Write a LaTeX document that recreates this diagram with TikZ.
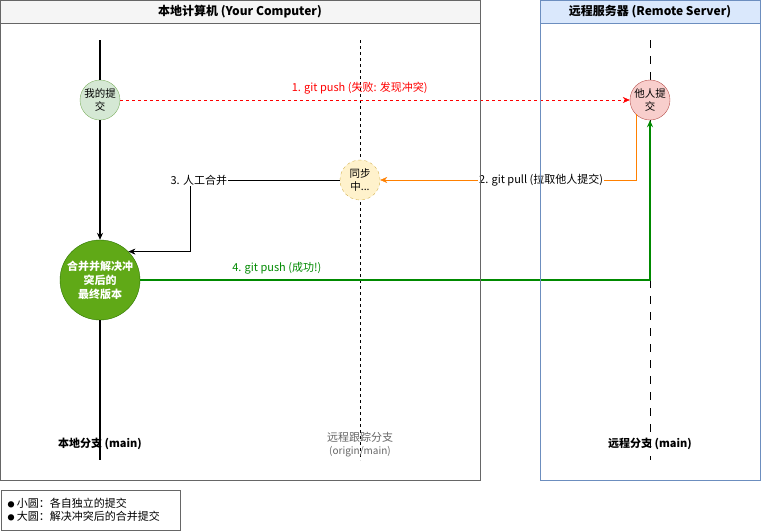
\documentclass[tikz,border=0pt]{standalone}
\usepackage{fontspec}
\setmainfont{Noto Sans CJK SC}
\usepackage{xcolor}
\usetikzlibrary{arrows.meta}

\definecolor{hdrgray}{HTML}{F5F5F5}
\definecolor{boxgray}{HTML}{666666}
\definecolor{hdrblue}{HTML}{DAE8FC}
\definecolor{boxblue}{HTML}{6C8EBF}
\definecolor{mineFill}{HTML}{D5E8D4}
\definecolor{mineLine}{HTML}{82B366}
\definecolor{theirFill}{HTML}{F8CECC}
\definecolor{theirLine}{HTML}{B85450}
\definecolor{syncFill}{HTML}{FFF2CC}
\definecolor{syncLine}{HTML}{D6B656}
\definecolor{mergeFill}{HTML}{60A917}
\definecolor{mergeLine}{HTML}{2D7600}
\definecolor{pullOrange}{HTML}{FF8000}
\definecolor{pushGreen}{HTML}{008A00}

\newcommand{\legbullet}{{\fontsize{7}{8}\selectfont ●}}

\begin{document}
\begin{tikzpicture}[x=1pt,y=-1pt,>={Stealth[length=7pt,width=6pt]},
    lbl/.style={font=\fontsize{11}{13}\selectfont},
    commit/.style={circle,draw,minimum size=40pt,inner sep=0pt,align=center,
                   font=\fontsize{10.5}{13}\selectfont},
    branchlbl/.style={font=\fontsize{11}{13}\selectfont\bfseries}]
  \useasboundingbox (0,0) rectangle (761,531);
  % containers
  \fill[white] (0,0) rectangle (480,480);
  \draw[boxgray,fill=hdrgray] (0,0) rectangle (480,23);
  \node[font=\fontsize{12}{14}\selectfont\bfseries] (localhdr) at (240,12) {本地计算机 (Your Computer)};
  \draw[boxblue,fill=hdrblue] (540,0) rectangle (760,23);
  \node[font=\fontsize{12}{14}\selectfont\bfseries] (remotehdr) at (650,12) {远程服务器 (Remote Server)};

  % branch lines
  \coordinate (loctop) at (100,40);
  \coordinate (locbot) at (100,460);
  \draw[dash pattern=on 3pt off 3pt] (360,40) -- (360,460);
  \draw[dash pattern=on 8pt off 8pt] (650,40) -- (650,460);

  % commits
  \node[commit,draw=mineLine,fill=mineFill] (mine) at (100,100) {我的提\\交};
  \node[commit,draw=theirLine,fill=theirFill] (theirs) at (650,100) {他人提\\交};
  \node[commit,draw=syncLine,fill=syncFill,dashed] (sync) at (360,180) {同步\\中...};
  \node[commit,draw=mergeLine,fill=mergeFill,minimum size=80pt,text=white,
        font=\fontsize{11}{14}\selectfont\bfseries] (merged) at (100,280) {合并并解决冲\\突后的\\最终版本};

  \draw[line width=2pt] (loctop) -- (mine.north);
  \draw[->,line width=2pt] (mine.south) -- (merged.north);
  \draw[line width=2pt] (merged.south) -- (locbot);

  % connectors
  \draw[->,red,dash pattern=on 3pt off 3pt] (mine.east) -- (theirs.west)
        node[lbl,pos=0.47,above=2pt]{1. git push (失败: 发现冲突)};
  \draw[->,pullOrange] (theirs.-135) |- (sync.east)
        node[lbl,pos=0.685,fill=white,text=black,inner sep=1pt]{2. git pull (拉取他人提交)};
  \draw[->] (sync.west) -- ++(-150,0)
        node[lbl,fill=white,inner sep=1pt,xshift=9pt]{3. 人工合并} |- (merged.45);
  \draw[->,pushGreen,line width=2pt] (merged.east) -| (theirs.south)
        node[lbl,pos=0.134,above=1pt]{4. git push (成功!)};

  % branch labels
  \node[branchlbl] (loclbl) at (100,444) {本地分支 (main)};
  \node[lbl,text=boxgray,align=center,fill=none] (trklbl) at (360,445)
        {远程跟踪分支\\{\fontsize{10}{12}\selectfont (origin/main)}};
  \node[branchlbl] (remlbl) at (650,444) {远程分支 (main)};

  % container outlines
  \draw[boxgray] (0,0) rectangle (480,480);
  \draw[boxblue] (540,0) rectangle (760,480);
  \draw[boxgray] (0,0) rectangle (480,23);
  \draw[boxblue] (540,0) rectangle (760,23);

  % legend
  \draw[boxgray] (1,490) rectangle (180,530);
  \node[lbl,anchor=west,align=left] (legend) at (4,510)
        {\legbullet\ 小圆：各自独立的提交\\\legbullet\ 大圆：解决冲突后的合并提交};
\end{tikzpicture}
\end{document}
